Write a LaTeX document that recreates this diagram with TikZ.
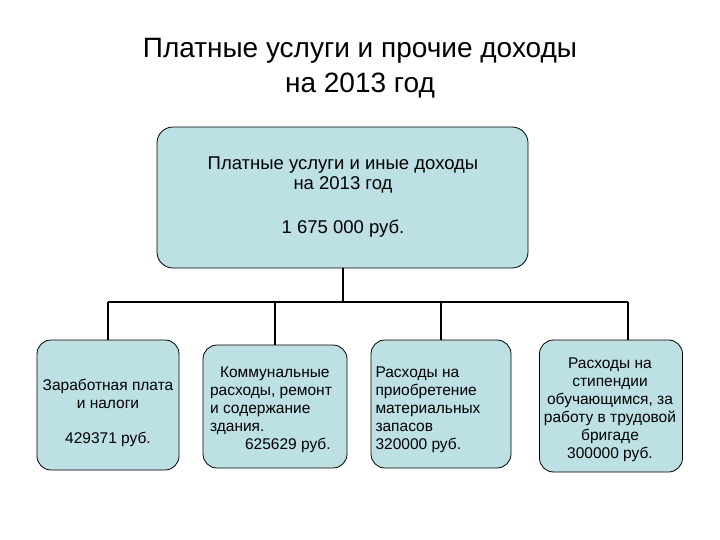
\documentclass[tikz,border=0pt]{standalone}
\usepackage{fontspec}
\setmainfont{Liberation Sans}
\begin{document}
\begin{tikzpicture}[x=1pt,y=-1pt,
  ln/.style={line width=1.5pt}]
\definecolor{bx}{HTML}{BDE0E5}
\useasboundingbox (0,0) rectangle (720,540);
\node[align=center,font=\fontsize{28}{35}\selectfont] (title) at (360,68) {Платные услуги и прочие доходы\\на 2013 год};
\draw[draw=black,line width=0.8pt,fill=bx,rounded corners=16pt] (157,127) rectangle (528,268);
\node (top) at (343,197) [minimum width=371pt,minimum height=141pt] {};
\node[align=center,font=\fontsize{18.5}{20}\selectfont] at (343,175) {Платные услуги и иные  доходы\\на 2013 год};
\node[font=\fontsize{18.5}{20}\selectfont] at (343,229) {1 675 000 руб.};
\coordinate (hub) at (343,302);
\coordinate (hl) at (108,302);
\coordinate (hr) at (628,302);
\draw[ln] (top.south) -- (hub);
\draw[ln] (hl) -- (hr);
\foreach \n/\x/\ya/\yb/\w in {b1/108/340/470/142, b2/275/345/468/144, b3/441/340/468/140, b4/611/340/472/143}{
  \draw[draw=black,line width=0.8pt,fill=bx,rounded corners=14pt] (\x-\w/2,\ya) rectangle (\x+\w/2,\yb);
  \node (\n) at (\x,{(\ya+\yb)/2}) [minimum width=\w pt,minimum height={(\yb-\ya)*1pt}] {};
}
\draw[ln] (108,302) -- (b1.north);
\draw[ln] (275,302) -- (b2.north);
\draw[ln] (441,302) -- (b3.north);
\draw[ln] (628,302) -- (628,340);
\tikzset{t/.style={font=\fontsize{15.5}{18}\selectfont,inner sep=0pt}}
\node[t,align=center] at (108,394) {Заработная плата\\и налоги};
\node[t] at (108,439) {429371 руб.};
\node[t,align=left] at (271,410) {\hspace*{10pt}Коммунальные\\расходы, ремонт\\и содержание\\здания.\\\hspace*{35pt}625629 руб.};
\node[t,align=left] at (428,410) {Расходы на\\приобретение\\материальных\\запасов\\320000 руб.};
\node[t,align=center] at (610,410) {Расходы на\\стипендии\\обучающимся, за\\работу в трудовой\\бригаде\\300000  руб.};
\end{tikzpicture}
\end{document}
